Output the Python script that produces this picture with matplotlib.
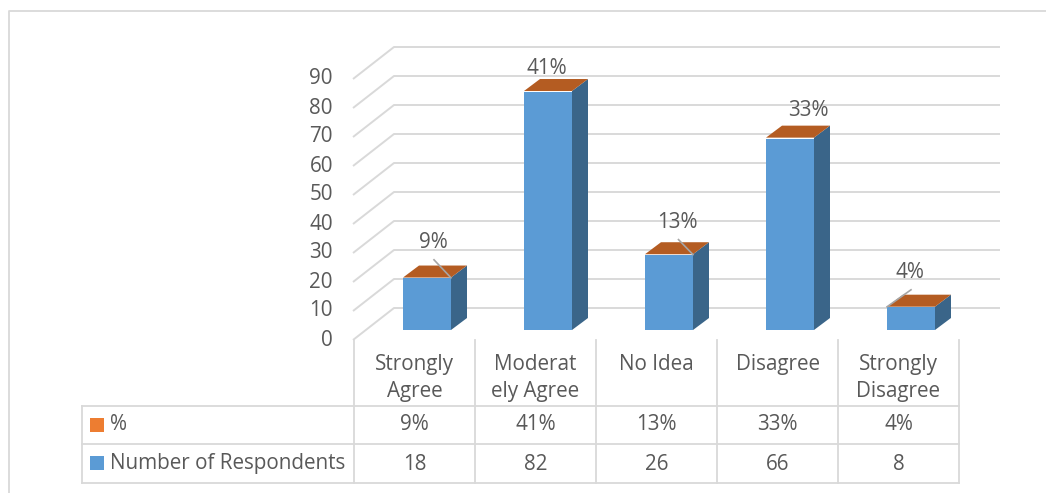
import matplotlib
matplotlib.use("Agg")
import matplotlib.pyplot as plt
from matplotlib.patches import Polygon, Rectangle
from matplotlib.transforms import blended_transform_factory

# ---- data ----
categories = ["Strongly\nAgree", "Moderat\nely Agree", "No Idea", "Disagree", "Strongly\nDisagree"]
respondents = [18, 82, 26, 66, 8]
percent = [9, 41, 13, 33, 4]
y_ticks = [0, 10, 20, 30, 40, 50, 60, 70, 80, 90]
series_names = ["%", "Number of Respondents"]

# ---- styling ----
FONT = ["Open Sans", "DejaVu Sans"]
TXT = "#595959"
GRID = "#D9D9D9"
BLUE = "#5B9BD5"
BLUE_SIDE = "#3A6589"
ORANGE = "#ED7D31"
ORANGE_TOP = "#B45C22"
FS = 14.9

W, H = 1046, 493
fig = plt.figure(figsize=(W / 100, H / 100), dpi=100)

# pixel-space canvas for frame and table rules
bg = fig.add_axes([0, 0, 1, 1])
bg.set_xlim(0, W)
bg.set_ylim(H, 0)
bg.axis("off")

# data axes: x in category units, y in value units (bar front plane)
ax = fig.add_axes([0, 0, 1, 1])
ax.patch.set_alpha(0)
ax.axis("off")
X0, XS = 427.0, 121.0          # pixel x of category 0, pixels per category
Y0, YS = 330.0, 2.9            # pixel y (from top) of value 0, pixels per unit
ax.set_xlim(-X0 / XS, (W - X0) / XS)
ax.set_ylim(-(H - Y0) / YS, Y0 / YS)

def px_x(p):
    return p / XS

def px_y(p):
    return p / YS

# chart frame
bg.plot([9, 9, W + 5], [H + 5, 11, 11], color=GRID, lw=1.3, zorder=0)

# depth geometry of the 3D box
wall_front_x = px_x(353 - X0)
wall_back_x = px_x(394 - X0)
wall_right_x = px_x(1000 - X0)
front_dy = -px_y(10)          # front edge sits below the bar plane
back_dy = px_y(22)            # back wall sits above the bar plane

for v in y_ticks:
    ax.plot([wall_front_x, wall_back_x, wall_right_x],
            [v + front_dy, v + back_dy, v + back_dy],
            color=GRID, lw=1.4, zorder=1, solid_capstyle="butt")
    ax.text(px_x(333 - X0), v + front_dy, str(v), ha="right", va="center",
            fontsize=FS, color=TXT, family=FONT)

# bars with side and top faces
half_w = px_x(24)
side_dx, side_dy = px_x(16), px_y(12)
xs = list(range(len(categories)))
ax.bar(xs, respondents, width=2 * half_w, color=BLUE, zorder=3)
for x, h, p in zip(xs, respondents, percent):
    top = h + p / 100.0
    ax.add_patch(Polygon([(x + half_w, 0), (x + half_w, top),
                          (x + half_w + side_dx, top + side_dy),
                          (x + half_w + side_dx, side_dy)],
                         closed=True, color=BLUE_SIDE, zorder=3, lw=0))
    ax.add_patch(Polygon([(x - half_w, top), (x + half_w, top),
                          (x + half_w + side_dx, top + side_dy),
                          (x - half_w + side_dx, top + side_dy)],
                         closed=True, color=ORANGE_TOP, zorder=4, lw=0))

# percentage labels above bars (offsets in pixels) with optional leader lines
label_offsets = [(6, 35), (-1, 24), (8.5, 32), (18, 28), (-1, 34)]
leader_to = ["right", None, "right", None, "left"]
for x, h, p, (ox, oy), side in zip(xs, respondents, percent, label_offsets, leader_to):
    lx, ly = x + px_x(ox), h + px_y(oy)
    ax.text(lx, ly, f"{p}%", ha="center", va="center", fontsize=FS,
            color=TXT, family=FONT, zorder=6)
    if side:
        ex = x + half_w if side == "right" else x - half_w
        ax.plot([lx + px_x(1), ex], [ly - px_y(17), h],
                color="#A6A6A6", lw=1.2, zorder=5)

# data table below the plot
tb = blended_transform_factory(ax.transData, bg.transData)
col_off = px_x(414.5 - X0)
edges = [col_off + i - 0.5 for i in range(len(categories) + 1)]
row_lines = [406, 444, 483]
left_x = 82
x_right_px = ax.transData.transform((edges[-1], 0))[0]
for yline in row_lines:
    bg.plot([left_x, x_right_px], [yline, yline], color=GRID, lw=1.3, zorder=1)
bg.plot([left_x, left_x], [row_lines[0], row_lines[-1]], color=GRID, lw=1.3)
for e in edges:
    ax.plot([e, e], [340, row_lines[-1]], color=GRID, lw=1.3, transform=tb,
            zorder=1)

for i, c in enumerate(categories):
    ax.text(col_off + i, 354, c, ha="center", va="top", fontsize=FS,
            color=TXT, family=FONT, transform=tb, linespacing=1.4)
    ax.text(col_off + i, 425, f"{percent[i]}%", ha="center", va="center",
            fontsize=FS, color=TXT, family=FONT, transform=tb)
    ax.text(col_off + i, 464, str(respondents[i]), ha="center", va="center",
            fontsize=FS, color=TXT, family=FONT, transform=tb)

# row headers with legend keys
for (yc, name, col) in [(425, series_names[0], ORANGE), (463, series_names[1], BLUE)]:
    bg.add_patch(Rectangle((90, yc - 7), 14, 14, color=col, lw=0))
    bg.text(110, yc, name, ha="left", va="center", fontsize=FS,
            color=TXT, family=FONT)

fig.savefig("out.png", dpi=100, facecolor="white")
